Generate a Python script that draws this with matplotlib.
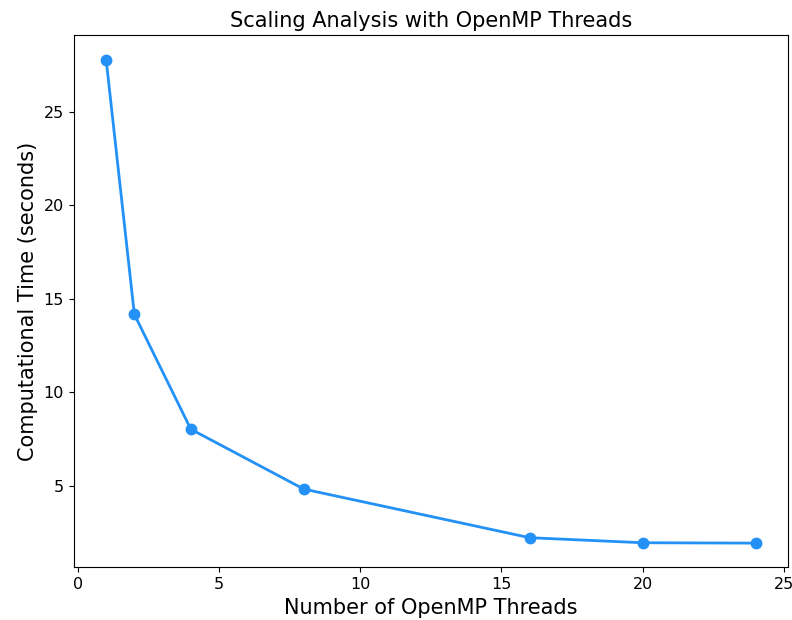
import matplotlib
matplotlib.use("Agg")
import matplotlib.pyplot as plt

# thread counts and measured run times
threads = [1, 2, 4, 8, 16, 20, 24]
times = [27.8, 14.17, 8.03, 4.83, 2.23, 1.96, 1.94]

fig, ax = plt.subplots(figsize=(7.92, 6.2), dpi=100)
ax.plot(threads, times, marker='o', color='#2391F5', linewidth=2, markersize=7.5)

ax.set_title("Scaling Analysis with OpenMP Threads", fontsize=15)
ax.set_xlabel("Number of OpenMP Threads", fontsize=15)
ax.set_ylabel("Computational Time (seconds)", fontsize=15)
ax.tick_params(labelsize=11.5)
ax.set_xticks([0, 5, 10, 15, 20, 25])
ax.set_yticks([5, 10, 15, 20, 25])

fig.subplots_adjust(left=0.093, right=0.995, top=0.943, bottom=0.085)
fig.savefig("out.png", dpi=100)
